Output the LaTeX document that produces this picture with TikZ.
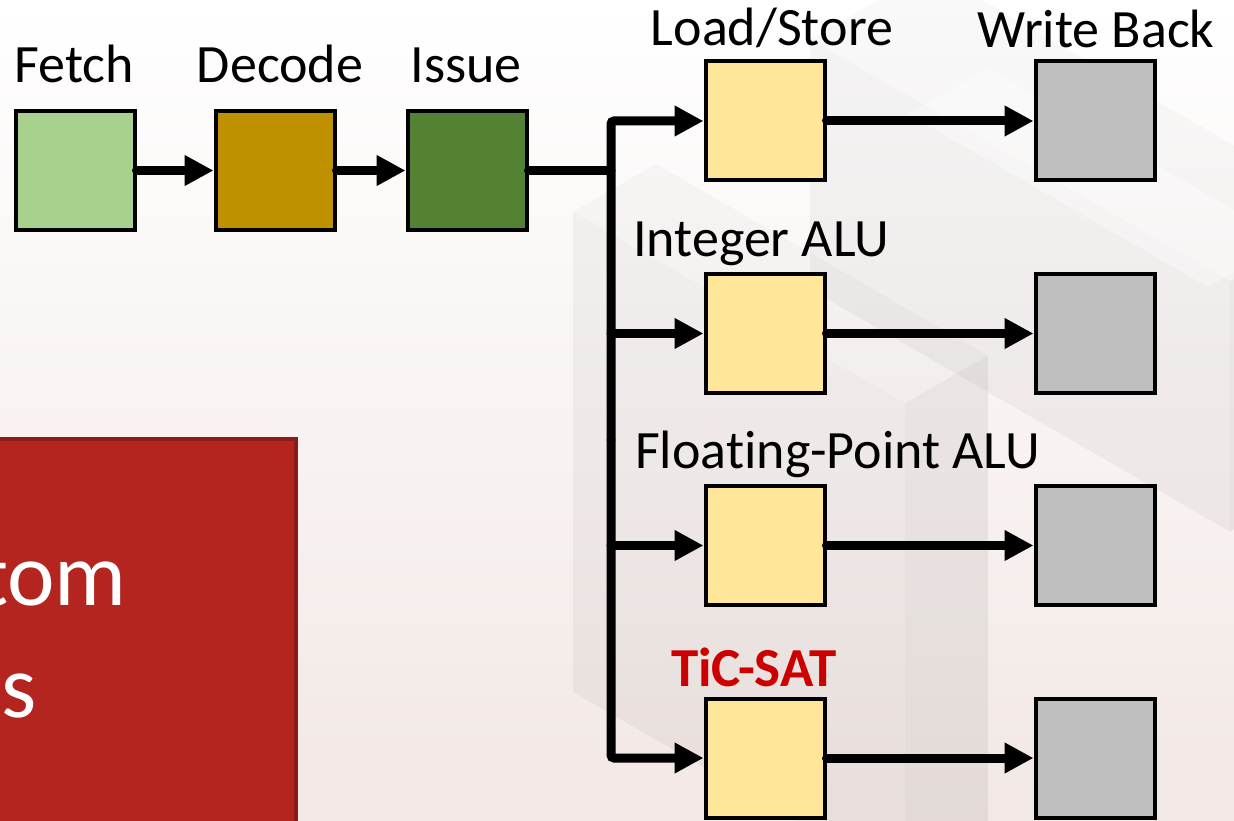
\documentclass[tikz,border=0pt]{standalone}
\usepackage{fontspec}
\setmainfont{Carlito}[Ligatures={NoCommon}]
\usetikzlibrary{arrows.meta}

\definecolor{fetchc}{RGB}{169,209,142}
\definecolor{decodec}{RGB}{191,144,0}
\definecolor{issuec}{RGB}{84,130,53}
\definecolor{unitc}{RGB}{255,230,153}
\definecolor{wbc}{RGB}{191,191,191}
\definecolor{ticred}{RGB}{204,0,0}
\definecolor{boxred}{RGB}{180,37,32}
\definecolor{boxedge}{RGB}{140,26,22}
\definecolor{bgbottom}{RGB}{242,232,229}

% isometric block: apex (#1,#2), left run #3, right run #4, height #5
\newcommand\isoblock[5]{%
  \fill[black,opacity=0.022] (#1,#2) -- ({#1-#3},{#2+0.577*#3})
    -- ({#1-#3+#4},{#2+0.577*(#3+#4)}) -- ({#1+#4},{#2+0.577*#4}) -- cycle;
  \fill[black,opacity=0.04] ({#1-#3},{#2+0.577*#3})
    -- ({#1-#3+#4},{#2+0.577*(#3+#4)}) -- ({#1-#3+#4},{#2+0.577*(#3+#4)+#5})
    -- ({#1-#3},{#2+0.577*#3+#5}) -- cycle;
  \fill[black,opacity=0.06] ({#1-#3+#4},{#2+0.577*(#3+#4)})
    -- ({#1+#4},{#2+0.577*#4}) -- ({#1+#4},{#2+0.577*#4+#5})
    -- ({#1-#3+#4},{#2+0.577*(#3+#4)+#5}) -- cycle;}

\begin{document}
\begin{tikzpicture}[x=1pt,y=-1pt,
  stage/.style={draw=black, line width=4pt, minimum width=119pt,
    minimum height=119pt, inner sep=0pt},
  lbl/.style={font=\fontsize{54}{60}\selectfont, inner sep=0pt},
  arr/.style={line width=9pt, line cap=round, rounded corners=3pt,
    -{Triangle[length=29pt,width=29pt]}},
  wire/.style={line width=9pt, line cap=round}]

% page background
\fill[top color=white, bottom color=bgbottom] (0,0) rectangle (1234,821);
\useasboundingbox (0,0) rectangle (1234,821);

% faint blocks behind the pipeline
\isoblock{930}{-30}{120}{420}{250}
\isoblock{656}{164}{83}{332}{480}
\fill[white,opacity=0.35] (988,68) -- (908,114) -- (1208,287) -- (1288,241) -- cycle;

% red panel at the lower left
\node[draw=boxedge, fill=boxred, line width=4pt, minimum width=310pt,
  minimum height=400pt, anchor=north east, inner sep=0pt] (panel) at (298,437) {};
\node[font=\fontsize{90}{100}\selectfont, text=white, anchor=base east,
  inner sep=0pt] (ptop) at (127,605) {tom};
\node[font=\fontsize{90}{100}\selectfont, text=white, anchor=base east,
  inner sep=0pt] (pbot) at (37,717) {s};

% front end
\node[stage, fill=fetchc]  (fetch)  at (75,170.5)  {};
\node[stage, fill=decodec] (decode) at (275,170.5) {};
\node[stage, fill=issuec]  (issue)  at (467,170.5) {};

\node[lbl, anchor=base] (lfetch)  at (74.5,83) {Fetch};
\node[lbl, anchor=base] (ldecode) at (280,83)  {Decode};
\node[lbl, anchor=base] (lissue)  at (466,83)  {Issue};

% execution units
\node[stage, fill=unitc] (ls)  at (765,121)   {};
\node[stage, fill=unitc] (int) at (765,333.5) {};
\node[stage, fill=unitc] (fp)  at (765,545.5) {};
\node[stage, fill=unitc] (tic) at (765,758)   {};

% write-back stages
\node[stage, fill=wbc] (wb1) at (1095,121)   {};
\node[stage, fill=wbc] (wb2) at (1095,333.5) {};
\node[stage, fill=wbc] (wb3) at (1095,545.5) {};
\node[stage, fill=wbc] (wb4) at (1095,758)   {};

\node[lbl, anchor=base] (lls) at (772,46) {Load/Store};
\node[lbl, anchor=base] (lwb) at (1096,48) {Write Back};
\node[lbl, anchor=base west] (lint) at (633,256) {Integer ALU};
\node[lbl, anchor=base west] (lfp)  at (635,468) {Floating-Point ALU};
\node[lbl, anchor=base west, text=ticred, font=\fontsize{55}{60}\selectfont\bfseries]
  (ltic) at (671,686) {TiC-SAT};

% connectors
\coordinate (bus) at (611,440);
\draw[arr] (fetch.east) -- (decode.west);
\draw[arr] (decode.east) -- (issue.west);
\draw[wire] (issue.east) -- (issue.east -| bus);
\draw[arr] (bus) |- (ls.west);
\draw[arr] (bus) |- (tic.west);
\draw[arr] (bus |- int.west) -- (int.west);
\draw[arr] (bus |- fp.west) -- (fp.west);

\draw[arr] (ls.east)  -- (wb1.west);
\draw[arr] (int.east) -- (wb2.west);
\draw[arr] (fp.east)  -- (wb3.west);
\draw[arr] (tic.east) -- (wb4.west);
\end{tikzpicture}
\end{document}
